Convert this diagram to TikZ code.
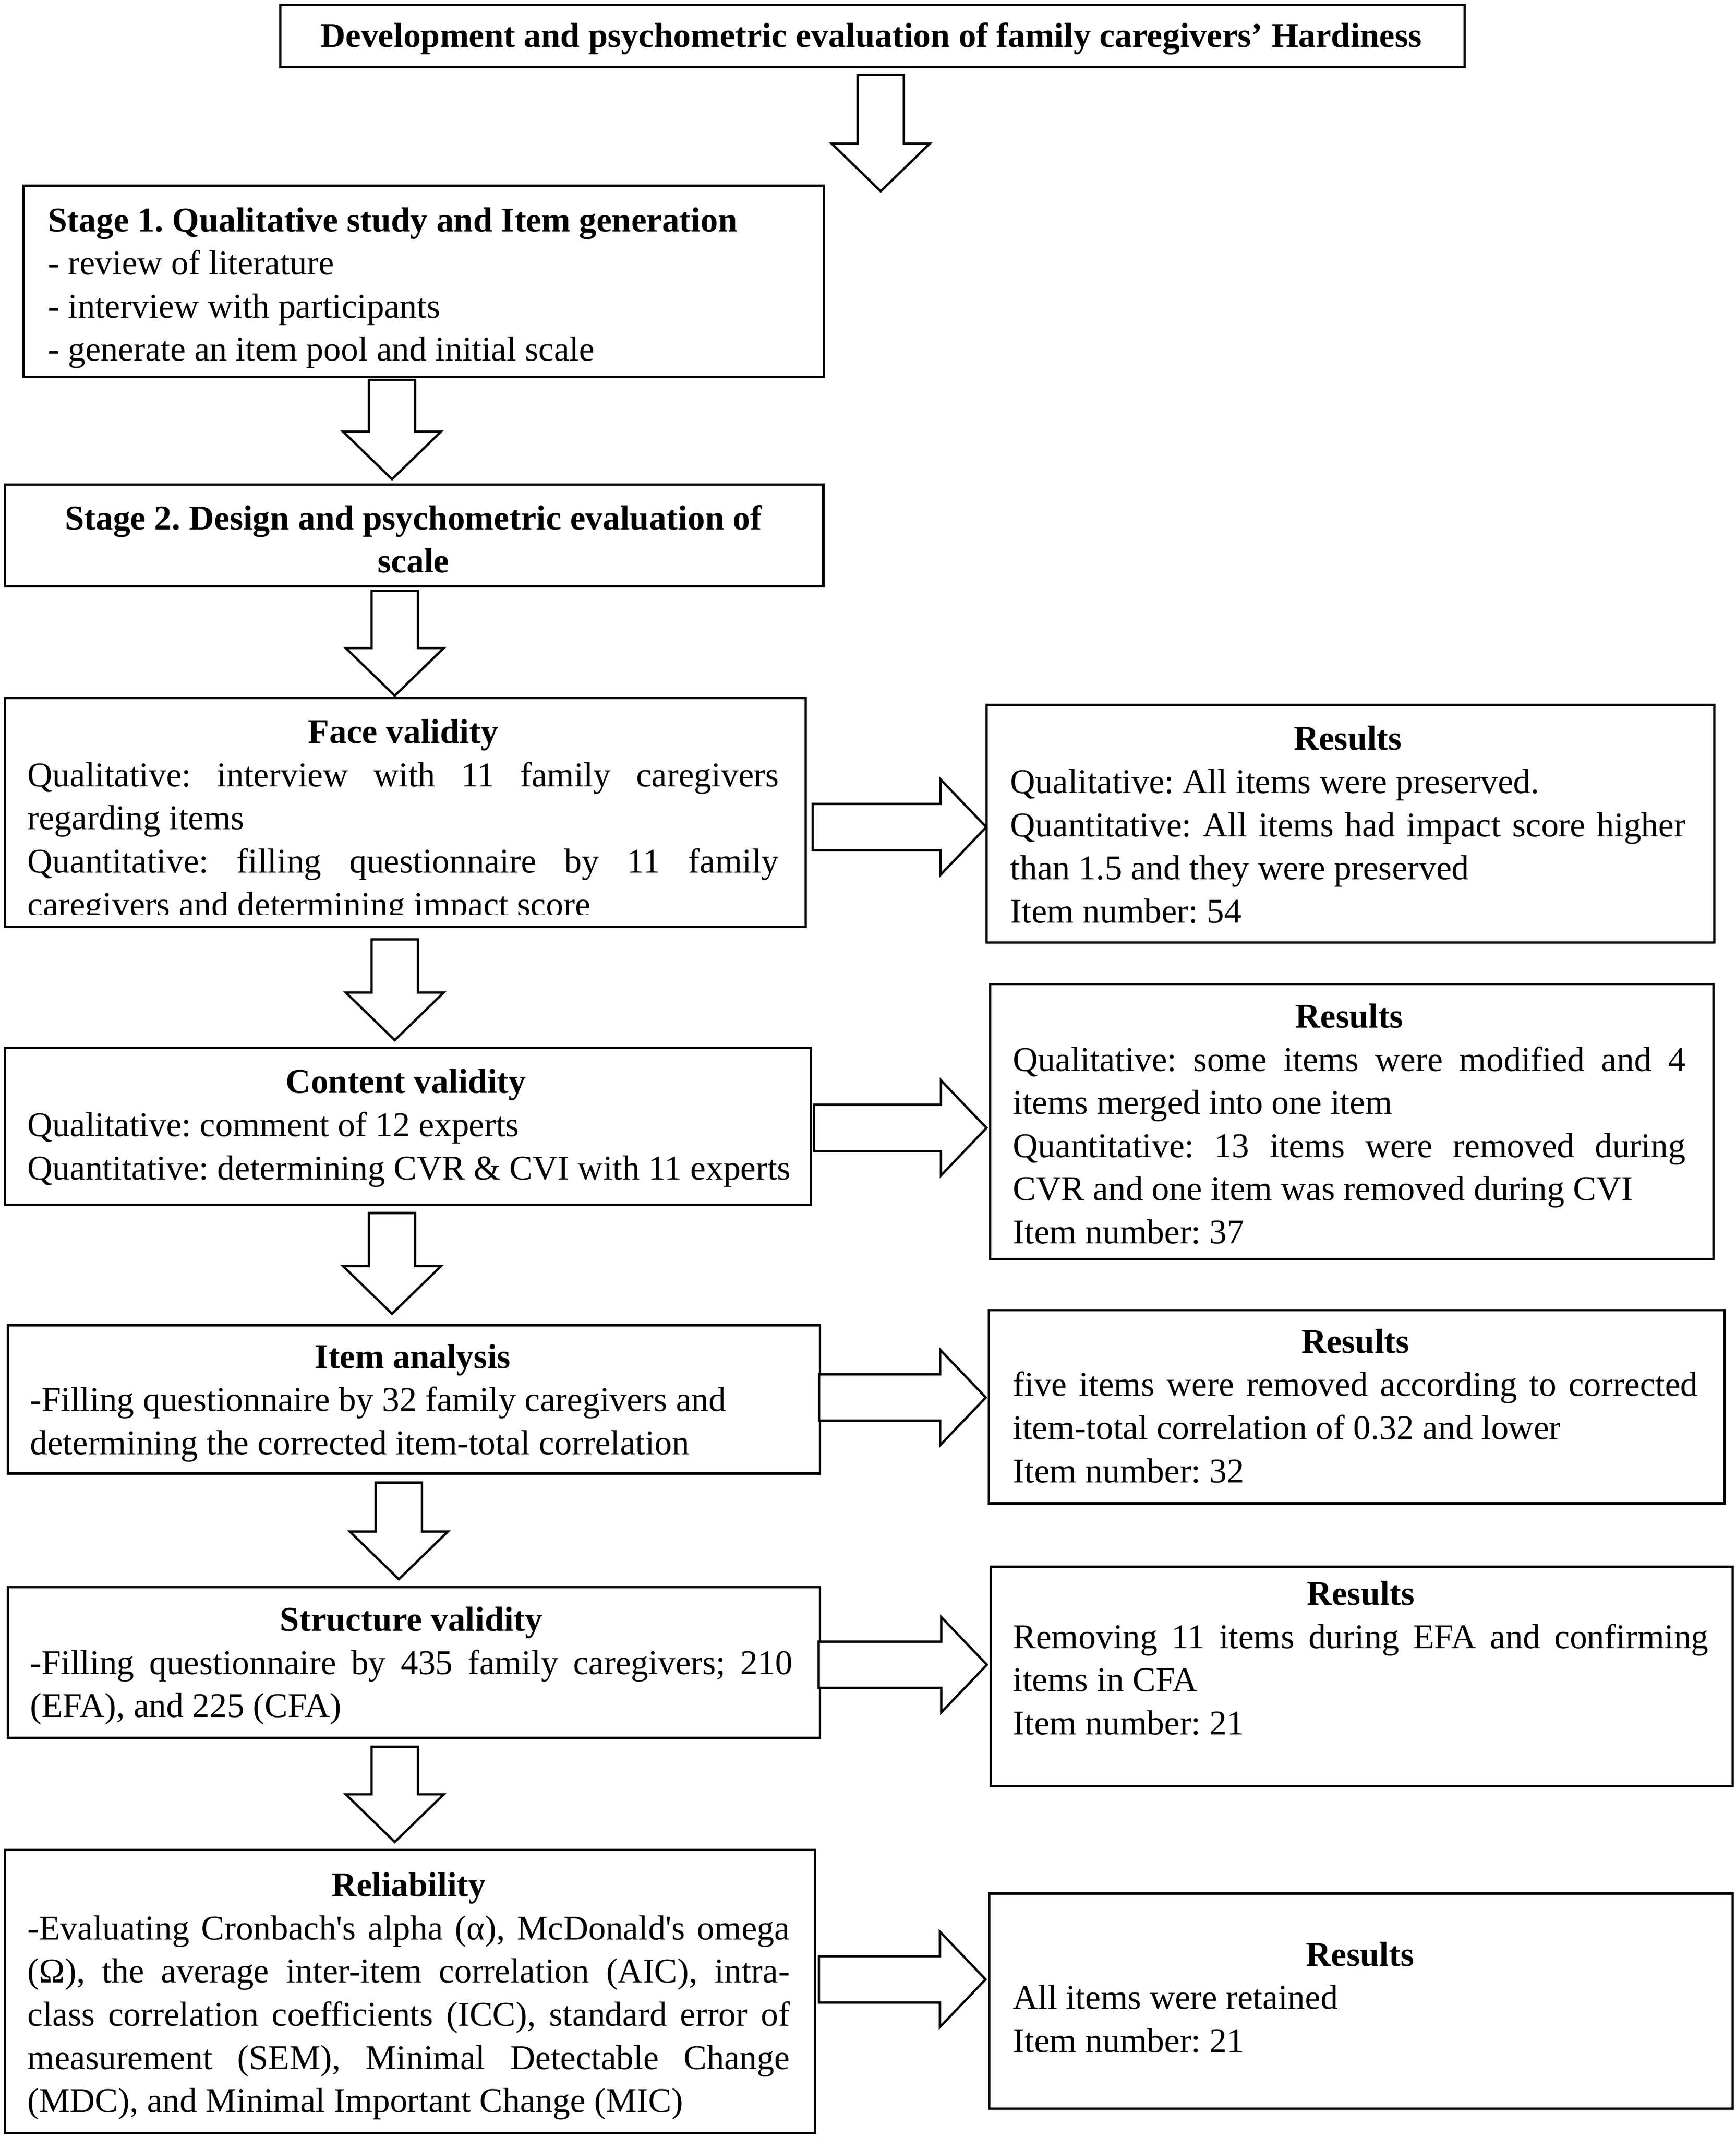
\documentclass[tikz,border=0pt]{standalone}
\usepackage{fontspec}
\setmainfont{Liberation Serif}[Ligatures=TeXOff]
\frenchspacing
\newcommand\mybox[5]{\node[box,minimum width={(#4)-(#2)},minimum height={(#5)-(#3)}] (#1) at (#2,#3) {};}
\newcommand\jline[2]{\makebox[#1][s]{#2}\par}
\newcommand\lline[1]{\makebox[\linewidth][l]{#1}\par}
\newcommand\ctitle[1]{\makebox[\linewidth][c]{\bfseries #1}\par}
\newcommand\blockdown[3]{\draw[blk] ({#1-17},#2) -- ({#1+17},#2) -- ({#1+17},{#3-35}) -- ({#1+36},{#3-35}) -- (#1,#3) -- ({#1-36},{#3-35}) -- ({#1-17},{#3-35}) -- cycle;}
\newcommand\blockright[3]{\draw[blk] (#1,{#3-17}) -- ({#2-33.5},{#3-17}) -- ({#2-33.5},{#3-35}) -- (#2,#3) -- ({#2-33.5},{#3+35}) -- ({#2-33.5},{#3+17}) -- (#1,{#3+17}) -- cycle;}
\begin{document}
\frenchspacing
\begin{tikzpicture}[x=1pt,y=-1pt,
  box/.style={draw,line width=1.7pt,rectangle,inner sep=0pt,anchor=north west},
  txt/.style={inner sep=0pt,anchor=base west,font=\fontsize{25.5}{31.7}\selectfont\frenchspacing},
  blk/.style={draw,line width=1.7pt,fill=white,line join=miter}]
\useasboundingbox[fill=white] (0,0) rectangle (1275,1569.7);

% ---------- text ----------
\node[txt,anchor=base] (titleT) at (640,34.5) {\bfseries Development and psychometric evaluation of family caregivers’ Hardiness};

\node[txt] (s1T) at (35,170) {\parbox[t]{560pt}{%
\lline{\bfseries Stage 1. Qualitative study and Item generation}
\lline{- review of literature}
\lline{- interview with participants}
\lline{- generate an item pool and initial scale}}};

\node[txt] (s2T) at (20,389) {\parbox[t]{567pt}{%
\ctitle{Stage 2. Design and psychometric evaluation of}
\ctitle{scale}}};

\begin{scope}
\clip (0,0) rectangle (1275,671.5);
\node[txt] (faceT) at (20,546) {\parbox[t]{552pt}{%
\ctitle{Face validity}
\jline{552pt}{Qualitative: interview with 11 family caregivers}
\lline{regarding items}
\jline{552pt}{Quantitative: filling questionnaire by 11 family}
\lline{caregivers and determining impact score}}};
\end{scope}

\node[txt] (r1T) at (742,551) {\parbox[t]{496pt}{%
\ctitle{Results}
\lline{Qualitative: All items were preserved.}
\jline{496pt}{Quantitative: All items had impact score higher}
\lline{than 1.5 and they were preserved}
\lline{Item number: 54}}};

\node[txt] (cvT) at (20,803) {\parbox[t]{556pt}{%
\ctitle{Content validity}
\lline{Qualitative: comment of 12 experts}
\lline{Quantitative: determining CVR \& CVI with 11 experts}}};

\node[txt] (r2T) at (744,755) {\parbox[t]{494pt}{%
\ctitle{Results}
\jline{494pt}{Qualitative: some items were modified and 4}
\lline{items merged into one item}
\jline{494pt}{Quantitative: 13 items were removed during}
\lline{CVR and one item was removed during CVI}
\lline{Item number: 37}}};

\node[txt] (iaT) at (22,1005) {\parbox[t]{562pt}{%
\ctitle{Item analysis}
\lline{-Filling questionnaire by 32 family caregivers and}
\lline{determining the corrected item-total correlation}}};

\node[txt] (r3T) at (744,993.8) {\parbox[t]{503pt}{%
\ctitle{Results}
\jline{503pt}{five items were removed according to corrected}
\lline{item-total correlation of 0.32 and lower}
\lline{Item number: 32}}};

\node[txt] (svT) at (22,1198) {\parbox[t]{560pt}{%
\ctitle{Structure validity}
\jline{560pt}{-Filling questionnaire by 435 family caregivers; 210}
\lline{(EFA), and 225 (CFA)}}};

\node[txt] (r4T) at (744,1179) {\parbox[t]{511pt}{%
\ctitle{Results}
\jline{511pt}{Removing 11 items during EFA and confirming}
\lline{items in CFA}
\lline{Item number: 21}}};

\node[txt] (relT) at (20,1393) {\parbox[t]{560pt}{%
\ctitle{Reliability}
\jline{560pt}{-Evaluating Cronbach's alpha (α), McDonald's omega}
\jline{560pt}{(Ω), the average inter-item correlation (AIC), intra-}
\jline{560pt}{class correlation coefficients (ICC), standard error of}
\jline{560pt}{measurement (SEM), Minimal Detectable Change}
\lline{(MDC), and Minimal Important Change (MIC)}}};

\node[txt] (r5T) at (744,1444) {\parbox[t]{510pt}{%
\ctitle{Results}
\lline{All items were retained}
\lline{Item number: 21}}};

% ---------- boxes ----------
\mybox{title}{205}{3}{1075}{48.5}
\mybox{s1}{16.5}{135.5}{604.5}{276}
\mybox{s2}{3}{355}{604}{430}
\mybox{face}{3}{512}{591}{680}
\mybox{res1}{724}{517}{1258.5}{691.5}
\mybox{cv}{3}{769}{595}{884}
\mybox{res2}{726.5}{722}{1258}{924}
\mybox{ia}{5}{972.5}{601.5}{1081.5}
\mybox{res3}{725.5}{961.5}{1266}{1103.5}
\mybox{sv}{5}{1165}{601.5}{1275.5}
\mybox{res4}{727}{1150}{1272}{1311}
\mybox{rel}{3}{1358}{598}{1566}
\mybox{res5}{726}{1390}{1272}{1548}

% ---------- block arrows ----------
\blockdown{647}{55}{140.5}
\blockdown{288}{279}{352}
\blockdown{290}{434}{511}
\blockdown{290}{690}{764}
\blockdown{288}{891}{965}
\blockdown{293}{1089}{1160}
\blockdown{290}{1283}{1353}

\blockright{597}{724.5}{607.5}
\blockright{598}{724.7}{828.5}
\blockright{601.7}{724.2}{1026.5}
\blockright{601.5}{725}{1222.8}
\blockright{601.6}{724}{1453.9}
\end{tikzpicture}
\end{document}
